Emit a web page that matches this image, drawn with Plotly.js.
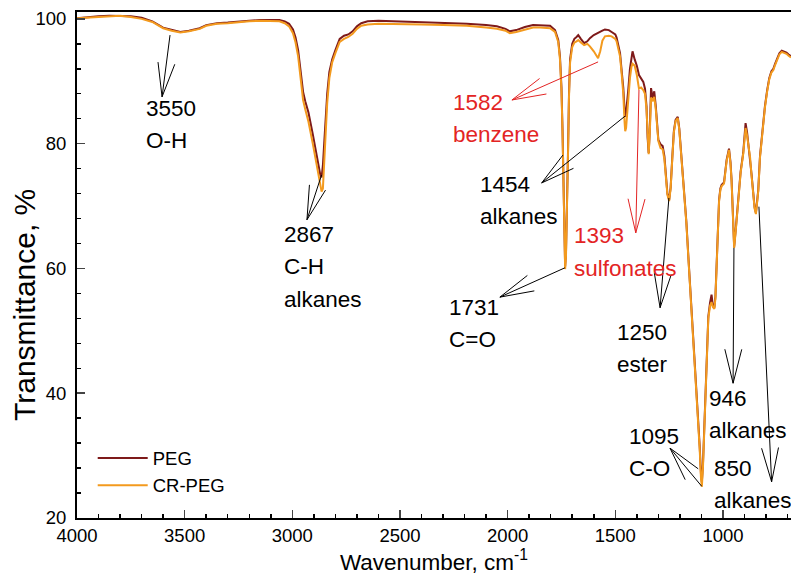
<!DOCTYPE html>
<html><head><meta charset="utf-8">
<script src="https://cdn.plot.ly/plotly-3.0.1.min.js"></script>
<style>html,body{margin:0;padding:0;background:#fff}#chart{width:791px;height:575px}</style>
</head><body><div id="chart"></div>
<script>
const wavenumber = [4000,3950,3900,3850,3800,3750,3700,3650,3600,3560,3520,3480,3430,3400,3350,3300,3250,3200,3150,3100,3060,3035,3015,2997,2985,2973,2960,2950,2940,2925,2905,2890,2878,2870,2864,2858,2852,2845,2838,2828,2815,2800,2780,2760,2740,2720,2700,2680,2650,2600,2500,2400,2300,2190,2100,2050,2010,1990,1960,1920,1882,1850,1803,1780,1765,1757,1750,1745,1740,1736,1733,1729,1725,1720,1715,1710,1700,1690,1680,1672,1660,1645,1630,1618,1600,1590,1580,1570,1560,1548,1530,1517,1500,1494,1485,1478,1470,1463,1457,1454,1450,1445,1440,1432,1425,1420,1410,1400,1390,1380,1370,1362,1355,1350,1345,1340,1334,1326,1319,1312,1305,1300,1290,1280,1272,1265,1258,1250,1243,1235,1228,1220,1210,1203,1195,1188,1180,1170,1160,1150,1140,1130,1122,1115,1108,1102,1098,1093,1084,1076,1068,1060,1053,1047,1040,1035,1030,1024,1018,1012,1006,995,983,972,965,960,954,948,940,929,918,906,900,895,888,880,874,867,859,853,847,841,836,828,820,810,805,795,785,775,766,758,748,738,727,715,705,695,684];
const pegT = [100.1,100.3,100.4,100.5,100.5,100.4,100.2,99.6,98.6,98.2,97.9,98.1,98.5,99.0,99.3,99.4,99.6,99.7,99.8,99.8,99.8,99.6,99.2,98.3,97.0,95.0,91.0,88.3,86.8,85.0,81.5,78.5,76.5,75.0,74.6,76.5,80.0,84.0,88.0,91.5,93.5,95.0,96.8,97.3,97.5,98.0,98.8,99.3,99.6,99.7,99.6,99.5,99.4,99.2,99.0,98.8,98.4,98.0,98.2,98.7,99.0,99.0,98.9,98.2,96.6,94.0,89.0,82.0,72.0,63.5,60.3,62.5,68.0,78.0,88.0,93.5,96.0,96.8,97.1,97.4,96.8,96.1,96.4,96.9,97.4,97.6,97.7,97.9,98.1,98.3,98.2,97.9,97.5,97.0,95.8,94.5,91.5,89.0,85.5,84.3,85.0,86.5,88.5,92.0,94.0,94.8,93.5,92.5,91.0,90.5,89.9,88.8,86.0,81.0,78.5,82.0,88.9,87.3,88.4,86.0,82.5,80.6,79.9,79.6,78.0,75.0,72.0,71.0,73.0,78.0,82.0,83.8,84.3,82.5,79.0,75.5,72.0,67.5,61.5,56.0,49.5,44.5,40.5,36.0,31.5,27.0,25.8,28.5,37.8,45.5,52.3,54.5,55.8,54.0,53.7,55.5,60.0,66.0,71.0,72.8,73.4,73.8,77.4,79.2,77.0,74.2,68.0,63.5,66.5,71.5,75.5,78.5,81.5,83.3,81.8,79.5,78.0,75.0,72.0,69.8,68.9,70.5,72.6,78.0,81.0,84.5,86.0,88.5,90.5,91.6,92.0,92.8,93.8,94.5,94.9,94.8,94.6,94.3,94.0];
const crpegT = [100.1,100.2,100.4,100.4,100.5,100.3,100.0,99.5,98.5,98.1,97.8,98.0,98.4,98.9,99.2,99.3,99.5,99.6,99.7,99.7,99.6,99.3,98.8,97.7,96.2,94.0,89.5,87.0,85.5,83.5,80.0,77.0,75.0,73.5,72.3,72.8,76.5,82.0,86.5,90.5,93.0,94.5,96.3,96.8,97.1,97.6,98.4,98.9,99.1,99.2,99.2,99.1,99.0,98.9,98.6,98.4,98.1,97.7,97.9,98.3,98.6,98.6,98.5,97.9,96.3,93.5,88.5,81.5,71.5,63.0,59.9,62.0,67.5,77.5,87.5,93.0,95.5,96.2,96.4,96.6,96.2,95.8,96.0,95.6,94.8,94.2,93.7,94.8,96.5,97.2,97.3,97.2,96.8,96.4,95.2,94.0,91.0,88.0,83.5,82.0,82.5,85.0,87.5,90.5,92.3,92.8,92.5,91.0,88.8,89.0,88.6,88.0,85.5,80.5,78.3,81.5,87.4,86.8,87.5,85.5,82.3,80.4,79.3,79.1,77.5,74.8,71.8,70.8,72.8,77.8,81.8,83.6,84.1,82.3,78.8,75.3,71.8,67.3,61.3,55.7,49.0,44.0,40.0,35.5,31.0,26.3,25.0,28.0,37.5,45.2,52.0,54.0,54.6,53.8,53.5,55.2,59.8,65.8,70.8,72.6,73.2,73.6,77.2,79.0,76.8,74.0,67.8,63.3,66.3,71.3,75.3,78.3,81.0,82.5,81.3,79.3,77.8,74.8,71.8,69.6,68.7,70.3,72.4,77.8,80.8,84.3,85.8,88.3,90.3,91.4,91.8,92.6,93.6,94.3,94.7,94.6,94.4,94.1,93.8];
const seriesNames = ['PEG', 'CR-PEG'];
const seriesColors = ['#7e1a1a', '#f39a1e'];
const xTickVals = [4000, 3500, 3000, 2500, 2000, 1500, 1000];
const yTickVals = [20, 40, 60, 80, 100];
const xTitle = 'Wavenumber, cm<sup>-1</sup>';
const yTitle = 'Transmittance, %';

// band labels
const bandText = [
  ['3550', 'O-H'],
  ['2867', 'C-H', 'alkanes'],
  ['1582', 'benzene'],
  ['1454', 'alkanes'],
  ['1731', 'C=O'],
  ['1393', 'sulfonates'],
  ['1250', 'ester'],
  ['946', 'alkanes'],
  ['1095', 'C-O'],
  ['850', 'alkanes']
];
const bandRed = [false, false, true, false, false, true, false, false, false, false];

// ---- geometry ----
const M = {l: 77, r: 0, t: 12, b: 57};
const W = 791, H = 575;
const X0 = 4000, X1 = 684, Y0 = 20, Y1 = 101.1;
const PW = W - M.l - M.r, PH = H - M.t - M.b;
const toPx = x => M.l + (X0 - x) / (X0 - X1) * PW;
const toPy = y => M.t + (Y1 - y) / (Y1 - Y0) * PH;
const fromPx = px => X0 - (px - M.l) / PW * (X0 - X1);
const fromPy = py => Y1 - (py - M.t) / PH * (Y1 - Y0);

// label anchors (left edge x, first-line y) and arrows (tail -> tip) in data coords
const labelPos = [
  [3688, 85.7], [3047, 65.4], [2262, 86.6], [2136, 73.4], [2280, 53.8],
  [1700, 65.2], [1500, 49.8], [1074, 39.1], [1444, 33.1], [1050, 28.0]
];
const lineGap = 5.15;
const arrows = [
  [3568, 97.4, 3605, 87.5],
  [2864, 75.0, 2932, 67.8],
  [1580, 93.1, 1980, 87.0],
  [1455, 84.4, 1842, 73.7],
  [1734, 60.1, 2036, 55.4],
  [1390, 88.6, 1405, 65.7],
  [1251, 71.3, 1292, 53.7],
  [949, 63.3, 953, 41.6],
  [833, 69.9, 774, 25.8],
  [1099, 25.1, 1246, 31.2]
];

const font = 'Liberation Sans, Arial, sans-serif';
const annotations = [];
bandText.forEach((lines, i) => {
  lines.forEach((t, j) => {
    annotations.push({
      x: labelPos[i][0], y: labelPos[i][1] - j * lineGap, xref: 'x', yref: 'y',
      text: t, showarrow: false, xanchor: 'left', yanchor: 'middle',
      font: {family: font, size: 22.5, color: bandRed[i] ? '#e32424' : '#000'}
    });
  });
});
// y-axis title placed as rotated text
annotations.push({
  xref: 'paper', yref: 'paper', x: (24 - M.l) / PW, y: (H - M.b - 305) / PH,
  xanchor: 'center', yanchor: 'middle', textangle: -90, showarrow: false,
  text: yTitle, font: {family: font, size: 30, color: '#000'}
});

const shapes = arrows.map((a, i) => {
  const tx = toPx(a[0]), ty = toPy(a[1]), hx = toPx(a[2]), hy = toPy(a[3]);
  const ang = Math.atan2(ty - hy, tx - hx);
  const L = 35, d = 14 * Math.PI / 180;
  const b1 = [hx + L * Math.cos(ang + d), hy + L * Math.sin(ang + d)];
  const b2 = [hx + L * Math.cos(ang - d), hy + L * Math.sin(ang - d)];
  const p = (px, py) => fromPx(px).toFixed(2) + ',' + fromPy(py).toFixed(3);
  return {
    type: 'path', xref: 'x', yref: 'y',
    path: 'M' + p(tx, ty) + 'L' + p(hx, hy) + 'M' + p(b1[0], b1[1]) + 'L' + p(hx, hy) + 'L' + p(b2[0], b2[1]),
    line: {color: bandRed[i] ? '#e32424' : '#000', width: 1}
  };
});

const traces = [pegT, crpegT].map((ys, i) => ({
  x: wavenumber, y: ys, type: 'scatter', mode: 'lines', name: seriesNames[i],
  line: {color: seriesColors[i], width: 2}
}));
const layout = {
  width: W, height: H, margin: M, paper_bgcolor: '#fff', plot_bgcolor: '#fff',
  font: {family: font, size: 18.5, color: '#000'},
  showlegend: true,
  legend: {x: 0.022, y: 0.155, xanchor: 'left', yanchor: 'top', bgcolor: 'rgba(0,0,0,0)',
    font: {family: font, size: 18.5}, itemwidth: 50, tracegroupgap: 0},
  xaxis: {range: [X0, X1], tickvals: xTickVals, ticks: 'inside', ticklen: 8, tickwidth: 1.5,
    showline: true, linewidth: 2, linecolor: '#000', mirror: true, showgrid: false, zeroline: false,
    minor: {dtick: 100, tick0: 0, ticks: 'inside', ticklen: 4, tickwidth: 1.5, tickcolor: '#000'},
    tickfont: {family: font, size: 18.5},
    title: {text: xTitle, font: {family: font, size: 22.5}, standoff: 3}},
  yaxis: {range: [Y0, Y1], tickvals: yTickVals, ticks: 'inside', ticklen: 8, tickwidth: 1.5,
    showline: true, linewidth: 2, linecolor: '#000', showgrid: false, zeroline: false,
    ticklabelstandoff: 5,
    minor: {dtick: 4, tick0: 0, ticks: 'inside', ticklen: 4, tickwidth: 1.5, tickcolor: '#000'},
    tickfont: {family: font, size: 18.5}},
  annotations: annotations, shapes: shapes
};
Plotly.newPlot('chart', traces, layout, {staticPlot: true});
</script></body></html>
